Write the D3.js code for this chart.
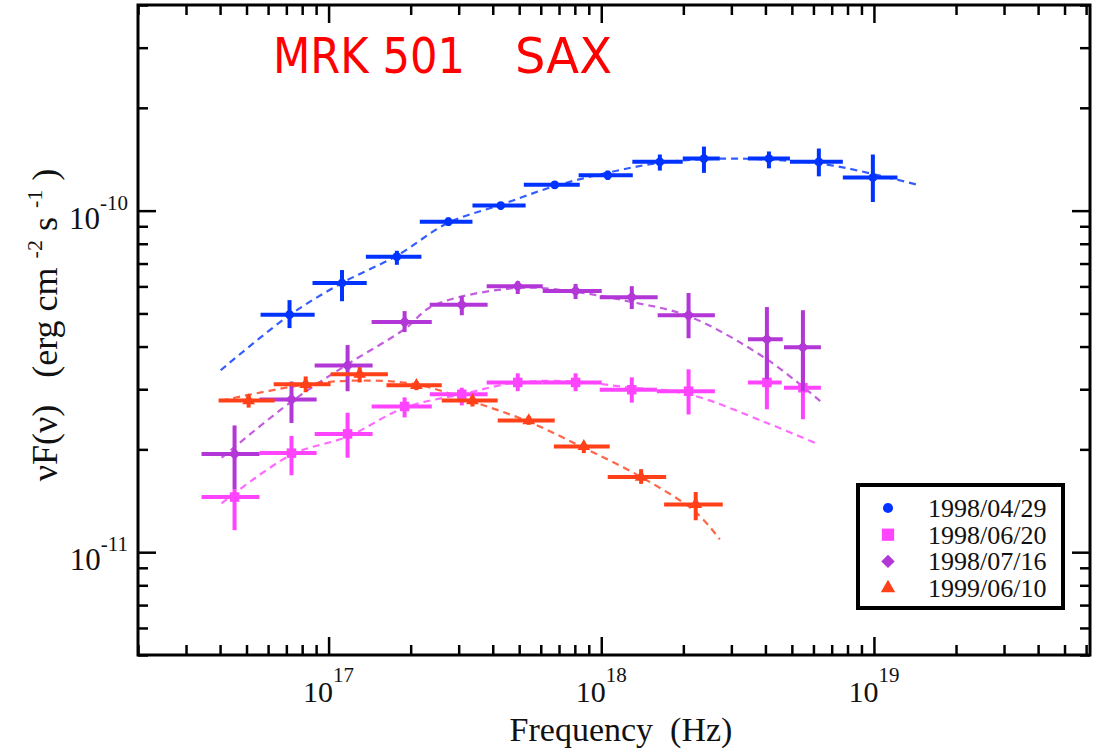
<!DOCTYPE html>
<html>
<head>
<meta charset="utf-8">
<script src="https://cdn.jsdelivr.net/npm/d3@7"></script>
<style>
  body { margin: 0; background: #fff; }
  svg { display: block; }
  .serif { font-family: "Liberation Serif", "DejaVu Serif", serif; fill: #111; }
</style>
</head>
<body>
<div id="chart"></div>
<script>
// Mrk 501 seen by BeppoSAX: nuF(nu) spectra at four epochs with log-parabola fits

const dates = ["1998/04/29", "1998/06/20", "1998/07/16", "1999/06/10"];
const colors = ["#0033ff", "#ff44ff", "#b336d6", "#ff4019"];
// the diamond is a square turned by 45 degrees
const symbols = [d3.symbolCircle, d3.symbolSquare, d3.symbolSquare, d3.symbolTriangle];
const symbolTurn = [0, 0, 45, 0];

// rows: [nu, nuLo, nuHi, nuFnu, nuFnuLo, nuFnuHi]  (Hz, erg cm^-2 s^-1)
const obs0429 = [
  [7.19e16, 5.63e16, 8.89e16, 4.96e-11, 4.53e-11, 5.47e-11],
  [1.12e17, 8.73e16, 1.38e17, 6.14e-11, 5.43e-11, 6.70e-11],
  [1.78e17, 1.37e17, 2.19e17, 7.33e-11, 6.94e-11, 7.63e-11],
  [2.75e17, 2.16e17, 3.37e17, 9.28e-11, 9.03e-11, 9.54e-11],
  [4.28e17, 3.37e17, 5.28e17, 1.035e-10, 1.007e-10, 1.06e-10],
  [6.75e17, 5.20e17, 8.34e17, 1.19e-10, 1.16e-10, 1.22e-10],
  [1.056e18, 8.26e17, 1.305e18, 1.27e-10, 1.23e-10, 1.31e-10],
  [1.64e18, 1.30e18, 1.99e18, 1.39e-10, 1.31e-10, 1.46e-10],
  [2.38e18, 1.99e18, 2.72e18, 1.42e-10, 1.29e-10, 1.54e-10],
  [4.12e18, 3.45e18, 4.92e18, 1.42e-10, 1.33e-10, 1.49e-10],
  [6.28e18, 4.92e18, 7.69e18, 1.39e-10, 1.26e-10, 1.52e-10],
  [9.91e18, 7.69e18, 1.22e19, 1.25e-10, 1.06e-10, 1.46e-10]
];
const obs0620 = [
  [4.52e16, 3.42e16, 5.58e16, 1.45e-11, 1.16e-11, 1.53e-11],
  [7.31e16, 5.58e16, 9.04e16, 1.95e-11, 1.68e-11, 2.19e-11],
  [1.174e17, 8.89e16, 1.45e17, 2.22e-11, 1.89e-11, 2.56e-11],
  [1.90e17, 1.438e17, 2.39e17, 2.67e-11, 2.48e-11, 2.84e-11],
  [3.08e17, 2.35e17, 3.83e17, 2.90e-11, 2.69e-11, 3.03e-11],
  [4.94e17, 3.80e17, 6.10e17, 3.14e-11, 2.96e-11, 3.34e-11],
  [8.05e17, 6.10e17, 1.004e18, 3.14e-11, 2.96e-11, 3.34e-11],
  [1.294e18, 9.87e17, 1.60e18, 2.99e-11, 2.74e-11, 3.25e-11],
  [2.09e18, 1.60e18, 2.61e18, 2.96e-11, 2.53e-11, 3.43e-11],
  [4.05e18, 3.45e18, 4.59e18, 3.14e-11, 2.62e-11, 3.77e-11],
  [5.49e18, 4.68e18, 6.39e18, 3.03e-11, 2.45e-11, 3.77e-11]
];
const obs0716 = [
  [4.52e16, 3.42e16, 5.58e16, 1.94e-11, 1.53e-11, 2.35e-11],
  [7.31e16, 5.58e16, 9.04e16, 2.80e-11, 2.39e-11, 3.16e-11],
  [1.174e17, 8.89e16, 1.45e17, 3.52e-11, 2.96e-11, 4.04e-11],
  [1.90e17, 1.438e17, 2.39e17, 4.72e-11, 4.41e-11, 5.08e-11],
  [3.08e17, 2.35e17, 3.83e17, 5.30e-11, 4.94e-11, 5.62e-11],
  [4.94e17, 3.80e17, 6.10e17, 6.01e-11, 5.70e-11, 6.22e-11],
  [8.05e17, 6.10e17, 1.004e18, 5.82e-11, 5.51e-11, 6.10e-11],
  [1.294e18, 9.87e17, 1.61e18, 5.58e-11, 5.15e-11, 6.01e-11],
  [2.09e18, 1.61e18, 2.61e18, 4.94e-11, 4.23e-11, 5.74e-11],
  [4.05e18, 3.45e18, 4.63e18, 4.20e-11, 3.21e-11, 5.22e-11],
  [5.49e18, 4.68e18, 6.39e18, 3.98e-11, 2.96e-11, 5.11e-11]
];
const obs0610 = [
  [5.09e16, 3.95e16, 6.34e16, 2.78e-11, 2.65e-11, 2.90e-11],
  [8.24e16, 6.29e16, 1.017e17, 3.10e-11, 2.94e-11, 3.27e-11],
  [1.30e17, 1.017e17, 1.65e17, 3.32e-11, 3.14e-11, 3.48e-11],
  [2.10e17, 1.63e17, 2.60e17, 3.08e-11, 2.98e-11, 3.16e-11],
  [3.37e17, 2.60e17, 4.17e17, 2.78e-11, 2.67e-11, 2.86e-11],
  [5.42e17, 4.17e17, 6.75e17, 2.43e-11, 2.36e-11, 2.50e-11],
  [8.63e17, 6.70e17, 1.074e18, 2.04e-11, 1.95e-11, 2.09e-11],
  [1.40e18, 1.056e18, 1.73e18, 1.66e-11, 1.585e-11, 1.75e-11],
  [2.22e18, 1.70e18, 2.79e18, 1.38e-11, 1.24e-11, 1.50e-11]
];

// model curves, [nu, nuFnu]
const fit0429 = [
  [4.02e16, 3.41e-11], [7.19e16, 4.94e-11], [1.12e17, 6.14e-11], [1.78e17, 7.38e-11],
  [2.75e17, 9.22e-11], [4.28e17, 1.04e-10], [6.75e17, 1.18e-10], [1.05e18, 1.29e-10],
  [1.64e18, 1.38e-10], [2.79e18, 1.42e-10], [4.80e18, 1.40e-10], [7.08e18, 1.355e-10],
  [1.45e19, 1.19e-10]
];
const fit0620 = [
  [4.05e16, 1.39e-11], [7.31e16, 1.93e-11], [1.174e17, 2.18e-11], [1.90e17, 2.65e-11],
  [3.08e17, 2.90e-11], [4.94e17, 3.14e-11], [8.05e17, 3.16e-11], [1.20e18, 3.05e-11],
  [2.09e18, 2.90e-11], [4.05e18, 2.39e-11], [6.07e18, 2.09e-11]
];
const fit0716 = [
  [4.05e16, 1.89e-11], [7.31e16, 2.76e-11], [1.174e17, 3.55e-11], [1.90e17, 4.50e-11],
  [2.41e17, 5.26e-11], [4.94e17, 5.94e-11], [8.05e17, 5.78e-11], [1.294e18, 5.40e-11],
  [2.09e18, 4.91e-11], [4.05e18, 3.67e-11], [6.45e18, 2.74e-11]
];
const fit0610 = [
  [4.05e16, 2.78e-11], [8.30e16, 3.10e-11], [1.30e17, 3.18e-11], [2.10e17, 3.10e-11],
  [3.37e17, 2.76e-11], [5.42e17, 2.41e-11], [8.63e17, 2.02e-11], [1.40e18, 1.66e-11],
  [2.22e18, 1.31e-11], [2.72e18, 1.09e-11]
];

const xMajor = [1e17, 1e18, 1e19];
const yMajor = [1e-11, 1e-10];

const observations = [obs0429, obs0620, obs0716, obs0610];
const fits = [fit0429, fit0620, fit0716, fit0610];

const width = 1106,
  height = 754,
  plot = { left: 138, right: 1090, top: 5, bottom: 655 };

const x = d3.scaleLog().domain([2e16, 6.2e19]).range([plot.left, plot.right]);
const y = d3.scaleLog().domain([5e-12, 4e-10]).range([plot.bottom, plot.top]);

const svg = d3.select("#chart").append("svg")
  .attr("width", width)
  .attr("height", height);

// dashed model curves
const line = d3.line()
  .x(d => x(d[0]))
  .y(d => y(d[1]))
  .curve(d3.curveCatmullRom);

svg.append("g")
  .selectAll("path")
  .data(fits)
  .join("path")
  .attr("d", line)
  .attr("fill", "none")
  .attr("stroke", (d, i) => colors[i])
  .attr("stroke-opacity", 0.8)
  .attr("stroke-width", 2.2)
  .attr("stroke-dasharray", "7,5");

// data points with error crosses
const sets = svg.append("g")
  .selectAll("g")
  .data(observations)
  .join("g")
  .attr("stroke", (d, i) => colors[i])
  .attr("fill", (d, i) => colors[i]);

sets.selectAll(".xerr")
  .data(d => d)
  .join("line")
  .attr("class", "xerr")
  .attr("x1", d => x(d[1]))
  .attr("x2", d => x(d[2]))
  .attr("y1", d => y(d[3]))
  .attr("y2", d => y(d[3]))
  .attr("stroke-width", 4);

sets.selectAll(".yerr")
  .data(d => d)
  .join("line")
  .attr("class", "yerr")
  .attr("x1", d => x(d[0]))
  .attr("x2", d => x(d[0]))
  .attr("y1", d => y(d[4]))
  .attr("y2", d => y(d[5]))
  .attr("stroke-width", 4);

const markSize = [60, 90, 70, 70];
sets.each(function(rows, i) {
  d3.select(this).selectAll(".mark")
    .data(rows)
    .join("path")
    .attr("class", "mark")
    .attr("stroke", "none")
    .attr("transform", d => `translate(${x(d[0])},${y(d[3])}) rotate(${symbolTurn[i]})`)
    .attr("d", d3.symbol(symbols[i], markSize[i]));
});

// frame and inward ticks on all four sides
svg.append("rect")
  .attr("x", plot.left)
  .attr("y", plot.top)
  .attr("width", plot.right - plot.left)
  .attr("height", plot.bottom - plot.top)
  .attr("fill", "none")
  .attr("stroke", "#000")
  .attr("stroke-width", 3);

const xMinor = x.ticks().filter(t => !xMajor.includes(t));
const yMinor = y.ticks().filter(t => !yMajor.some(m => Math.abs(m - t) / m < 1e-6));

function ticks(axis, scale, values, size, transform) {
  const g = svg.append("g")
    .attr("transform", transform)
    .call(axis(scale).tickValues(values).tickSize(-size).tickFormat(""));
  g.select(".domain").remove();
  g.selectAll(".tick line").attr("stroke", "#000").attr("stroke-width", 2.5);
}

ticks(d3.axisBottom, x, xMajor, 18, `translate(0,${plot.bottom})`);
ticks(d3.axisBottom, x, xMinor, 10, `translate(0,${plot.bottom})`);
ticks(d3.axisTop, x, xMajor, 18, `translate(0,${plot.top})`);
ticks(d3.axisTop, x, xMinor, 10, `translate(0,${plot.top})`);
ticks(d3.axisLeft, y, yMajor, 18, `translate(${plot.left},0)`);
ticks(d3.axisLeft, y, yMinor, 10, `translate(${plot.left},0)`);
ticks(d3.axisRight, y, yMajor, 18, `translate(${plot.right},0)`);
ticks(d3.axisRight, y, yMinor, 10, `translate(${plot.right},0)`);

// power-of-ten tick labels
const expo = d => Math.round(Math.log10(d));

const xLabels = svg.append("g")
  .selectAll("text")
  .data(xMajor)
  .join("text")
  .attr("class", "serif")
  .attr("x", d => x(d))
  .attr("y", plot.bottom + 47)
  .attr("text-anchor", "middle")
  .attr("font-size", 30);
xLabels.append("tspan").text("10");
xLabels.append("tspan").attr("dy", -20).attr("font-size", 21).text(d => expo(d));

const yLabels = svg.append("g")
  .selectAll("text")
  .data(yMajor)
  .join("text")
  .attr("class", "serif")
  .attr("x", plot.left - 10)
  .attr("y", d => y(d) + 18)
  .attr("text-anchor", "end")
  .attr("font-size", 31);
yLabels.append("tspan").text("10");
yLabels.append("tspan").attr("dy", -19).attr("font-size", 21).text(d => "-" + Math.abs(expo(d)));

// axis titles
svg.append("text")
  .attr("class", "serif")
  .attr("x", 621)
  .attr("y", 741)
  .attr("text-anchor", "middle")
  .attr("font-size", 34)
  .text("Frequency\u00a0\u00a0(Hz)");

const yTitle = svg.append("text")
  .attr("class", "serif")
  .attr("transform", "translate(57,325) rotate(-90)")
  .attr("text-anchor", "middle")
  .attr("font-size", 36);
yTitle.append("tspan").text("\u03bdF(\u03bd)\u00a0\u00a0\u00a0(erg cm\u00a0");
yTitle.append("tspan").attr("dy", -15).attr("font-size", 22).text("-2");
yTitle.append("tspan").attr("dy", 15).text("\u00a0s\u00a0");
yTitle.append("tspan").attr("dy", -15).attr("font-size", 22).text("-1");
yTitle.append("tspan").attr("dy", 15).text("\u00a0)");

// title
const titleFont = '"Comic Sans MS", "DejaVu Sans", sans-serif';
svg.append("text")
  .attr("x", 273)
  .attr("y", 73)
  .attr("font-family", titleFont)
  .attr("font-size", 50)
  .attr("fill", "#ff0000")
  .attr("textLength", 192)
  .attr("lengthAdjust", "spacingAndGlyphs")
  .text("MRK 501");
svg.append("text")
  .attr("x", 515)
  .attr("y", 73)
  .attr("font-family", titleFont)
  .attr("font-size", 50)
  .attr("fill", "#ff0000")
  .attr("textLength", 97)
  .attr("lengthAdjust", "spacingAndGlyphs")
  .text("SAX");

// legend
const legend = svg.append("g").attr("transform", "translate(858,485)");
legend.append("rect")
  .attr("width", 205)
  .attr("height", 123)
  .attr("fill", "#fff")
  .attr("stroke", "#000")
  .attr("stroke-width", 4);

const legendSize = [80, 150, 90, 90];
const rows = legend.selectAll(".row")
  .data(dates)
  .join("g")
  .attr("class", "row")
  .attr("transform", (d, i) => `translate(0,${23 + i * 26.7})`);

rows.append("path")
  .attr("transform", (d, i) => `translate(30,0) rotate(${symbolTurn[i]})`)
  .attr("d", (d, i) => d3.symbol(symbols[i], legendSize[i])())
  .attr("fill", (d, i) => colors[i]);

rows.append("text")
  .attr("class", "serif")
  .attr("x", 70)
  .attr("y", 9)
  .attr("font-size", 26)
  .text(d => d);
</script>
</body>
</html>
